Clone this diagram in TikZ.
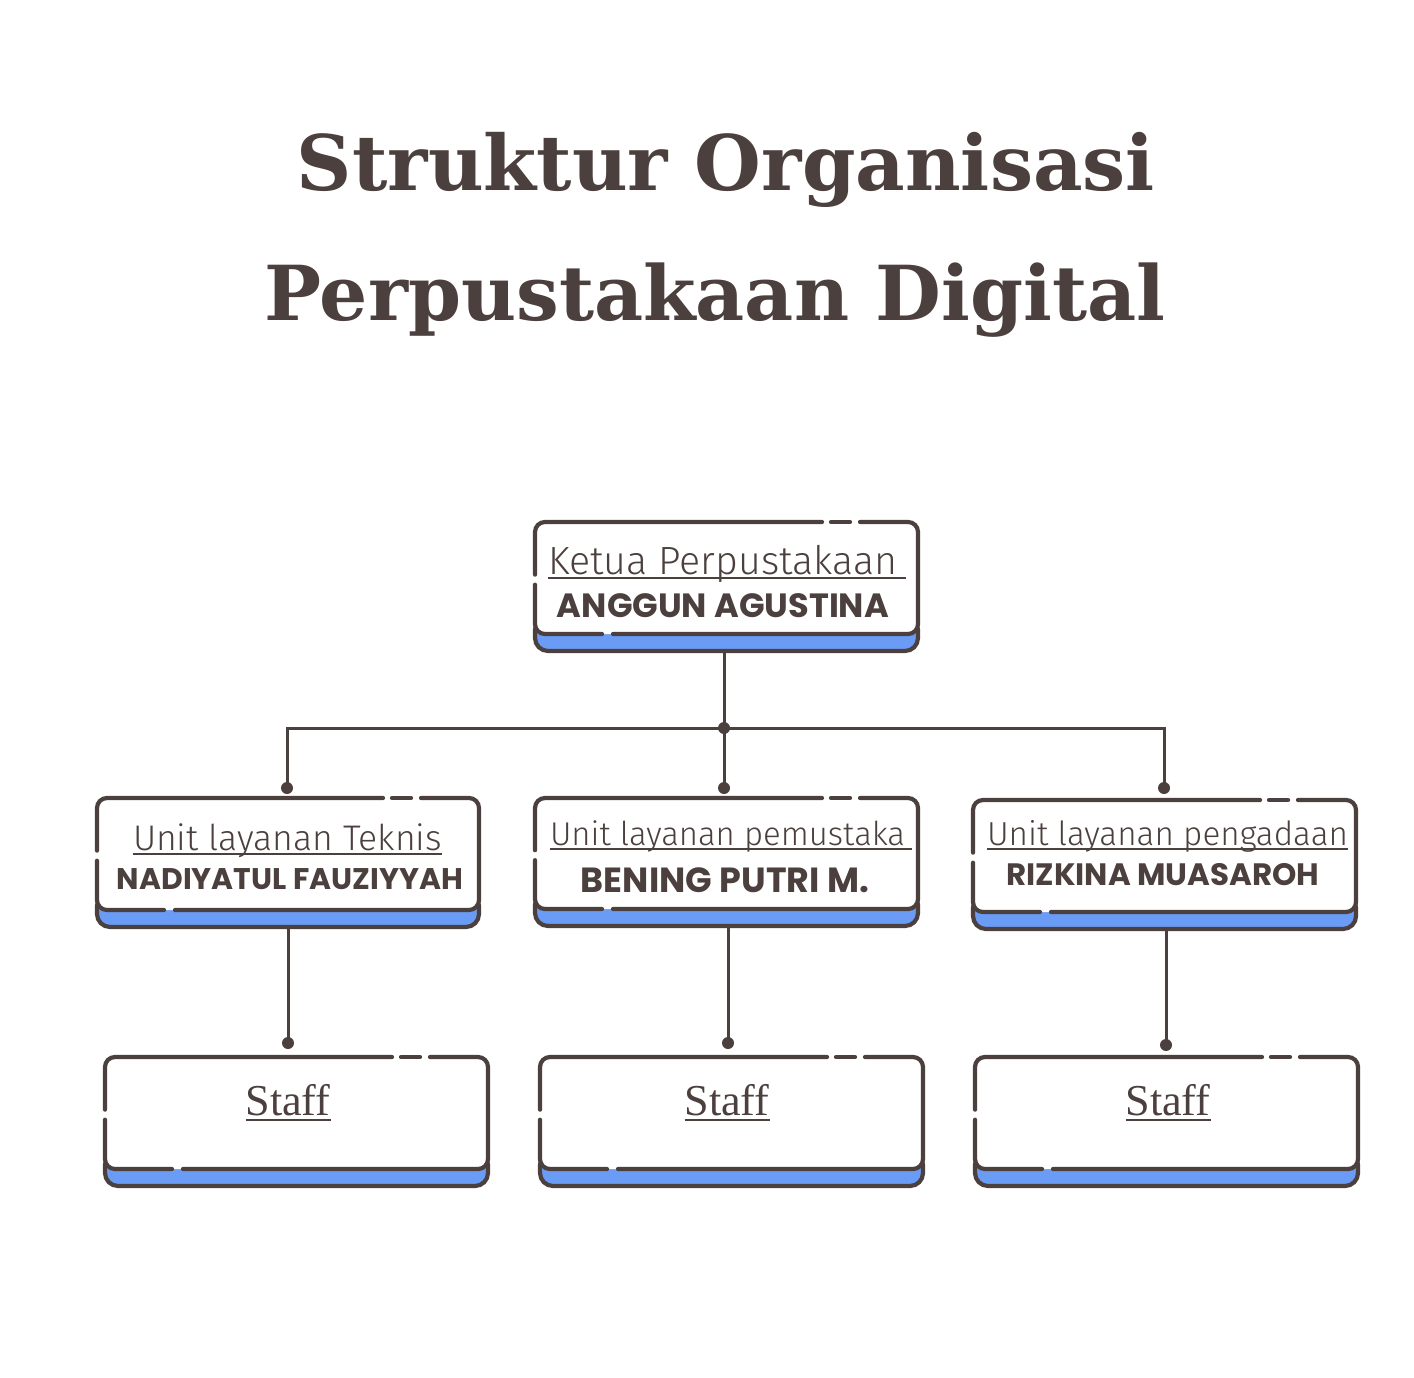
\documentclass[tikz,border=0pt]{standalone}
\usepackage{fontspec}
\usepackage{graphicx}
\newfontfamily\titlef{DejaVu Serif}
\newfontfamily\unitf{Fira Sans Light}
\newfontfamily\namef{Poppins}
\newfontfamily\stafff{Liberation Serif}
\definecolor{ink}{HTML}{4B403D}
\definecolor{bandblue}{HTML}{6A9BF5}
\newcommand\fitw[2]{\resizebox{#1pt}{!}{#2}}
\tikzset{
  boxline/.style={draw=ink, line width=4.2pt, line cap=round, rounded corners=10pt},
  conn/.style={draw=ink, line width=3pt},
  uline/.style={draw=ink, line width=1.6pt},
  txt/.style={inner sep=0pt, outer sep=0pt, text=ink},
  boxnode/.style={inner sep=0pt, outer sep=0pt, draw=none, rectangle},
}
% name, L, T, R, B
\newcommand\orgbox[5]{%
  \node[boxnode, minimum width={#4-#2}, minimum height={#5-#3}] (#1) at ({(#2+#4)/2},{(#3+#5)/2}) {};
  \filldraw[fill=bandblue, boxline, rounded corners=13pt] ({#2+2},{#5-34}) rectangle ({#4-2},{#5});
  \fill[white, rounded corners=10pt] ({#2+2},{#3+2}) rectangle ({#4-2},{#5-17});
  \draw[boxline] ({#4-60},{#3+2}) -- ({#4-2},{#3+2}) -- ({#4-2},{#5-17}) -- ({#2+80},{#5-17});
  \draw[boxline] ({#2+69},{#5-17}) -- ({#2+2},{#5-17}) -- ({#2+2},{#3+2+0.56*(#5-#3-19)});
  \draw[boxline] ({#2+2},{#3+2+0.47*(#5-#3-19)}) -- ({#2+2},{#3+2}) -- ({#4-98},{#3+2});
  \draw[boxline] ({#4-89},{#3+2}) -- ({#4-70},{#3+2});
}
\begin{document}
\begin{tikzpicture}[x=1pt,y=-1pt]
\fill[white] (0,0) rectangle (1414,1378);
\useasboundingbox (0,0) rectangle (1414,1378);

% title
\node[txt, anchor=base] (t1) at (726,190) {\fitw{858}{\titlef\bfseries Struktur Organisasi}};
\node[txt, anchor=base] (t2) at (715,320) {\fitw{900}{\titlef\bfseries Perpustakaan Digital}};

% boxes
\orgbox{top}{533}{520}{920}{651}
\orgbox{b1}{95}{796}{481}{927}
\orgbox{b2}{533}{796}{920}{926}
\orgbox{b3}{971}{798}{1358}{929}
\orgbox{s1}{103}{1055}{490}{1186}
\orgbox{s2}{538}{1055}{925}{1186}
\orgbox{s3}{973}{1055}{1360}{1186}

% texts
\node[txt, anchor=base west] (ketua) at (548,574) {\fitw{349}{\unitf Ketua Perpustakaan}};
\draw[uline] ([yshift=-4pt]ketua.base west) -- ++(358,0);
\node[txt, anchor=base] (n0) at (723,617) {\fitw{332}{\namef\bfseries ANGGUN AGUSTINA}};

\node[txt, anchor=base west] (u1) at (133,850) {\fitw{309}{\unitf Unit layanan Teknis}};
\draw[uline] ([yshift=-4pt]u1.base west) -- ([yshift=-4pt]u1.base east);
\node[txt, anchor=base] (n1) at (290,889) {\fitw{346}{\namef\bfseries NADIYATUL FAUZIYYAH}};

\node[txt, anchor=base west] (u2) at (550,845) {\fitw{355}{\unitf Unit layanan pemustaka}};
\draw[uline] ([yshift=-4pt]u2.base west) -- ++(362,0);
\node[txt, anchor=base] (n2) at (725,892) {\fitw{288}{\namef\bfseries BENING PUTRI M.}};

\node[txt, anchor=base west] (u3) at (987,845) {\fitw{361}{\unitf Unit layanan pengadaan}};
\draw[uline] ([yshift=-4pt]u3.base west) -- ([yshift=-4pt]u3.base east);
\node[txt, anchor=base] (n3) at (1163,885) {\fitw{313}{\namef\bfseries RIZKINA MUASAROH}};

\node[txt, anchor=base] (st1) at (288,1115) {\fitw{85}{\stafff Staff}};
\node[txt, anchor=base] (st2) at (727,1115) {\fitw{85}{\stafff Staff}};
\node[txt, anchor=base] (st3) at (1168,1115) {\fitw{85}{\stafff Staff}};
\foreach \s in {st1,st2,st3}{
  \draw[uline] ([yshift=-5pt]\s.base west) -- ([yshift=-5pt]\s.base east);
}

% connectors
\coordinate (j) at (724,728);
\coordinate (d1) at (287,788);
\coordinate (d2) at (724,788);
\coordinate (d3) at (1164,788);
\coordinate (e1) at (288,1043);
\coordinate (e2) at (728,1043);
\coordinate (e3) at (1166,1045);

\draw[conn] (j |- top.south) -- (d2);
\draw[conn] (d1) -- (d1 |- j) -- (d3 |- j) -- (d3);
\draw[conn] (e1 |- b1.south) -- (e1);
\draw[conn] (e2 |- b2.south) -- (e2);
\draw[conn] (e3 |- b3.south) -- (e3);
\foreach \p in {j,d1,d2,d3,e1,e2,e3}{
  \fill[ink] (\p) circle (6pt);
}
\end{tikzpicture}
\end{document}
